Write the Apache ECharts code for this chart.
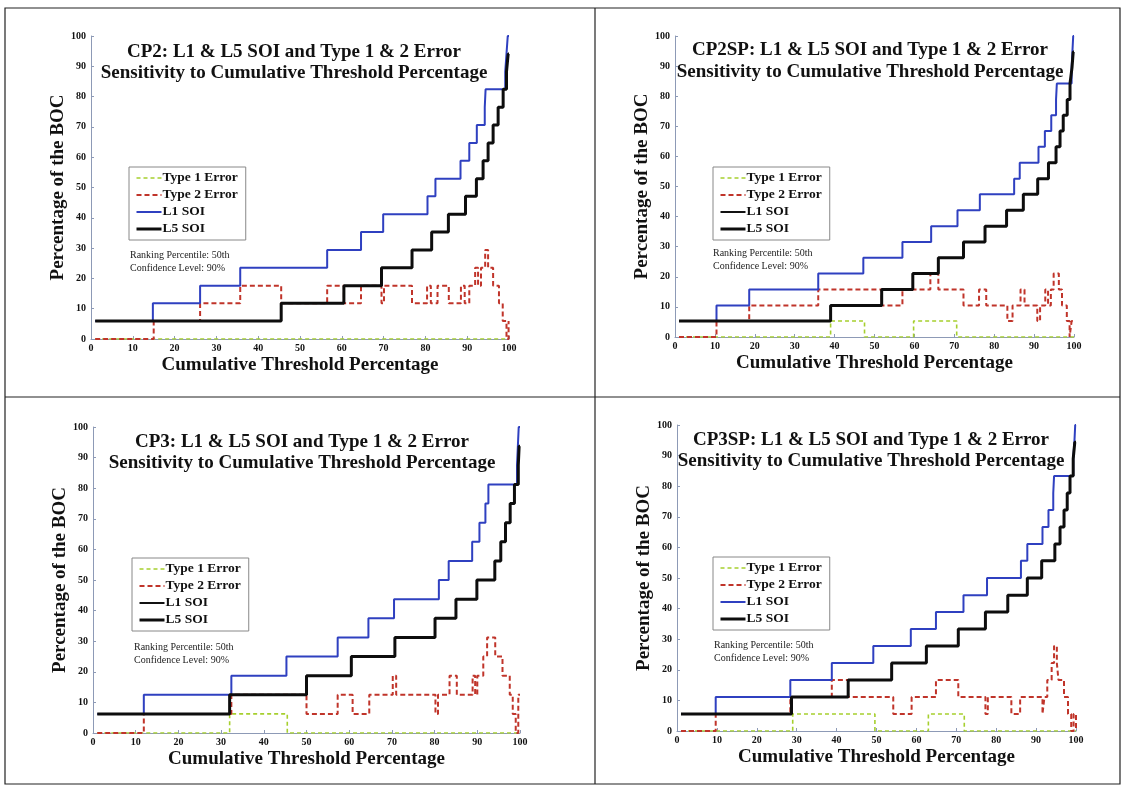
<!DOCTYPE html>
<html>
<head>
<meta charset="utf-8">
<script src="https://cdn.jsdelivr.net/npm/echarts@6/dist/echarts.min.js"></script>
<style>
  html, body { margin: 0; padding: 0; background: #fff; }
  #chart { width: 1122px; height: 786px; }
</style>
</head>
<body>
<div id="chart"></div>
<script>
// Step curves: each point [threshold %, % of BOC]; the value holds until the next point.
const panelNames = ['CP2', 'CP2SP', 'CP3', 'CP3SP'];
const axisTicks = [0, 10, 20, 30, 40, 50, 60, 70, 80, 90, 100];

// CP2
const cp2Type1 = [[1, 0], [100, 0]];
const cp2Type2 = [[1, 0], [15, 5.9], [26.1, 11.8], [35.7, 17.6], [45.5, 11.8], [56.5, 17.6], [60.5, 11.8], [64.6, 17.6], [69.5, 11.8], [70.1, 17.6], [76.8, 11.8], [80.4, 17.6], [81.3, 11.8], [82.9, 17.6], [85.6, 11.8], [88.5, 17.6], [89.4, 11.8], [90.5, 17.6], [91.9, 23.5], [92.6, 17.6], [93.3, 23.5], [94.3, 29.4], [95.0, 23.5], [96.2, 17.6], [97.6, 11.8], [98.5, 5.9], [99.4, 0], [99.9, 5.9], [100, 5.9]];
const cp2L1 = [[1, 5.9], [14.8, 11.8], [26.1, 17.6], [35.7, 23.5], [56.5, 29.4], [64.6, 35.3], [69.9, 41.2], [80.5, 47.1], [82.4, 52.9], [88.4, 58.8], [90.5, 64.7], [92.3, 70.6], [94.2, 76.5], [94.4, 82.4], [99.1, 88.2], [99.4, 94.1], [99.7, 100], [100, 100]];
const cp2L5 = [[1, 5.9], [45.5, 11.8], [60.5, 17.6], [69.5, 23.5], [76.8, 29.4], [81.5, 35.3], [85.5, 41.2], [89.6, 47.1], [92.2, 52.9], [93.8, 58.8], [95.0, 64.7], [96.2, 70.6], [97.4, 76.5], [98.6, 82.4], [99.4, 88.2], [99.8, 94.1], [100, 94.1]];

// CP2SP
const cp2spType1 = [[1, 0], [39.0, 5.3], [47.5, 0], [59.8, 5.3], [70.6, 0], [100, 0]];
const cp2spType2 = [[1, 0], [10.4, 5.3], [18.6, 10.5], [35.9, 15.8], [51.8, 10.5], [57.0, 15.8], [64.0, 21.1], [66.0, 15.8], [72.3, 10.5], [76.2, 15.8], [78.0, 10.5], [83.3, 5.3], [84.6, 10.5], [86.6, 15.8], [87.6, 10.5], [90.8, 5.3], [91.5, 10.5], [92.8, 15.8], [93.5, 10.5], [94.2, 15.8], [94.9, 21.1], [96.2, 15.8], [97.0, 10.5], [98.2, 5.3], [98.9, 0], [99.4, 5.3], [100, 5.3]];
const cp2spL1 = [[1, 5.3], [10.4, 10.5], [18.6, 15.8], [35.9, 21.1], [47.2, 26.3], [57.0, 31.6], [64.2, 36.8], [70.8, 42.1], [76.4, 47.4], [85.0, 52.6], [86.4, 57.9], [91.1, 63.2], [92.7, 68.4], [94.3, 73.7], [95.5, 78.9], [95.7, 84.2], [99.4, 89.5], [99.6, 94.7], [99.8, 100], [100, 100]];
const cp2spL5 = [[1, 5.3], [39.0, 10.5], [51.8, 15.8], [59.6, 21.1], [66.0, 26.3], [72.3, 31.6], [77.7, 36.8], [83.1, 42.1], [87.3, 47.4], [90.9, 52.6], [93.6, 57.9], [95.5, 63.2], [96.5, 68.4], [97.3, 73.7], [98.3, 78.9], [99.0, 84.2], [99.5, 89.5], [99.8, 94.7], [100, 94.7]];

// CP3
const cp3Type1 = [[1, 0], [32.0, 6.25], [45.5, 0], [100, 0]];
const cp3Type2 = [[1, 0], [11.9, 6.25], [32.4, 12.5], [50.0, 6.25], [57.3, 12.5], [60.8, 6.25], [64.7, 12.5], [70.2, 18.75], [71.0, 12.5], [80.2, 6.25], [80.8, 12.5], [83.5, 18.75], [85.2, 12.5], [88.9, 18.75], [89.5, 12.5], [90.0, 18.75], [91.4, 25], [92.3, 31.25], [94.2, 25], [95.9, 18.75], [97.6, 12.5], [98.3, 6.25], [99.0, 0], [99.6, 12.5], [100, 12.5]];
const cp3L1 = [[1, 6.25], [11.9, 12.5], [32.4, 18.75], [45.3, 25], [57.3, 31.25], [64.5, 37.5], [70.5, 43.75], [81.0, 50], [83.3, 56.25], [88.8, 62.5], [90.5, 68.75], [91.9, 75], [92.6, 81.25], [99.3, 87.5], [99.5, 93.75], [99.7, 100], [100, 100]];
const cp3L5 = [[1, 6.25], [32.0, 12.5], [50.0, 18.75], [60.5, 25], [70.7, 31.25], [80.1, 37.5], [85.0, 43.75], [89.9, 50], [94.1, 56.25], [95.5, 62.5], [96.6, 68.75], [97.7, 75], [98.7, 81.25], [99.6, 87.5], [99.8, 93.75], [100, 93.75]];

// CP3SP
const cp3spType1 = [[1, 0], [29.0, 5.56], [49.6, 0], [63.0, 5.56], [72.0, 0], [100, 0]];
const cp3spType2 = [[1, 0], [9.7, 5.56], [28.4, 11.1], [38.8, 16.7], [42.9, 11.1], [54.2, 5.56], [58.8, 11.1], [64.9, 16.7], [70.5, 11.1], [77.3, 5.56], [77.9, 11.1], [83.8, 5.56], [86.0, 11.1], [91.6, 5.56], [92.1, 11.1], [92.8, 16.7], [93.9, 22.2], [94.5, 27.8], [95.2, 22.2], [95.6, 16.7], [97.0, 11.1], [98.0, 5.56], [98.8, 0], [99.4, 5.56], [100, 0]];
const cp3spL1 = [[1, 5.56], [9.7, 11.1], [28.4, 16.7], [38.8, 22.2], [49.2, 27.8], [58.6, 33.3], [64.9, 38.9], [71.8, 44.4], [77.7, 50], [86.2, 55.6], [87.8, 61.1], [91.6, 66.7], [93.1, 72.2], [94.3, 77.8], [94.5, 83.3], [99.3, 88.9], [99.6, 94.4], [99.8, 100], [100, 100]];
const cp3spL5 = [[1, 5.56], [28.7, 11.1], [42.9, 16.7], [53.8, 22.2], [62.5, 27.8], [70.5, 33.3], [77.3, 38.9], [82.9, 44.4], [87.8, 50], [91.4, 55.6], [94.7, 61.1], [96.0, 66.7], [97.0, 72.2], [97.8, 77.8], [98.5, 83.3], [99.3, 88.9], [99.7, 94.4], [100, 94.4]];

const seriesNames = ['Type 1 Error', 'Type 2 Error', 'L1 SOI', 'L5 SOI'];
const panelData = [
  [cp2Type1, cp2Type2, cp2L1, cp2L5],
  [cp2spType1, cp2spType2, cp2spL1, cp2spL5],
  [cp3Type1, cp3Type2, cp3L1, cp3L5],
  [cp3spType1, cp3spType2, cp3spL1, cp3spL5]
];
const noteLines = ['Ranking Percentile: 50th', 'Confidence Level: 90%'];
const subtitle = 'Sensitivity to Cumulative Threshold Percentage';
const xName = 'Cumulative Threshold Percentage';
const yName = 'Percentage of the BOC';

// ---- layout / styling ----
const SERIF = "'Liberation Serif', 'Times New Roman', serif";
const grids = [
  { left: 91, top: 36, width: 418, height: 303 },
  { left: 675, top: 36, width: 399, height: 301 },
  { left: 93, top: 427, width: 427, height: 306 },
  { left: 677, top: 425, width: 399, height: 306 }
];
const titlePos = [[294, 52, 73], [870, 50, 72], [302, 442, 463], [871, 440, 461]];
const legendPos = [[129, 167], [713, 167], [132, 558], [713, 557]];
const notePos = [[130, 255], [713, 253], [134, 647], [714, 645]];
const legendL1Color = ['#2f40c0', '#111', '#111', '#2f40c0'];

const lineStyles = [
  { color: '#a6cf2e', width: 1.6, type: [4, 3] },
  { color: '#c0342a', width: 2, type: [5, 3] },
  { color: '#2f40c0', width: 2, type: 'solid' },
  { color: '#0d0d0d', width: 3, type: 'solid' }
];

const axisCommon = {
  type: 'value', min: 0, max: 100, interval: 10,
  axisLine: { show: true, lineStyle: { color: '#8d9ab6', width: 1 } },
  axisTick: { show: true, inside: true, length: 3, lineStyle: { color: '#8d9ab6' } },
  splitLine: { show: false },
  axisLabel: { fontFamily: SERIF, fontWeight: 'bold', fontSize: 10, color: '#111' },
  nameTextStyle: { fontFamily: SERIF, fontWeight: 'bold', fontSize: 19, color: '#111' }
};

const xAxes = [], yAxes = [], series = [], legends = [], graphics = [];

grids.forEach((g, i) => {
  xAxes.push(Object.assign({}, axisCommon, {
    gridIndex: i, name: xName, nameLocation: 'middle', nameGap: 17,
    axisLabel: Object.assign({}, axisCommon.axisLabel, { margin: 4 })
  }));
  yAxes.push(Object.assign({}, axisCommon, {
    gridIndex: i, name: yName, nameLocation: 'middle', nameGap: 23, nameRotate: 90,
    axisLabel: Object.assign({}, axisCommon.axisLabel, { margin: 5 })
  }));
  panelData[i].forEach((d, k) => {
    series.push({
      name: seriesNames[k], type: 'line', xAxisIndex: i, yAxisIndex: i,
      step: 'end', symbol: 'none', showSymbol: false, data: d, z: 2 + k,
      lineStyle: lineStyles[k], itemStyle: { color: lineStyles[k].color },
      emphasis: { disabled: true }
    });
  });
  legends.push({
    left: legendPos[i][0], top: legendPos[i][1], orient: 'vertical',
    backgroundColor: '#fff', borderColor: '#888', borderWidth: 1,
    padding: [4, 8, 4, 6], itemGap: 3, itemWidth: 25, itemHeight: 12,
    selectedMode: false,
    itemStyle: { opacity: 0 },
    textStyle: { fontFamily: SERIF, fontWeight: 'bold', fontSize: 13.5, color: '#111', padding: [0, 0, 0, -4] },
    data: seriesNames.map((n, k) => ({
      name: n,
      itemStyle: { opacity: 0 },
      lineStyle: {
        color: k === 2 ? legendL1Color[i] : lineStyles[k].color,
        width: lineStyles[k].width,
        type: lineStyles[k].type
      }
    }))
  });
  const t = titlePos[i];
  graphics.push({
    type: 'text', x: t[0], y: t[1], z: 10,
    style: { text: panelNames[i] + ': L1 & L5 SOI and Type 1 & 2 Error', align: 'center', verticalAlign: 'middle',
      fontFamily: SERIF, fontWeight: 'bold', fontSize: 19, fill: '#111' }
  });
  graphics.push({
    type: 'text', x: t[0], y: t[2], z: 10,
    style: { text: subtitle, align: 'center', verticalAlign: 'middle',
      fontFamily: SERIF, fontWeight: 'bold', fontSize: 19, fill: '#111' }
  });
  noteLines.forEach((line, j) => {
    graphics.push({
      type: 'text', x: notePos[i][0], y: notePos[i][1] + j * 13, z: 10,
      style: { text: line, align: 'left', verticalAlign: 'middle',
        fontFamily: SERIF, fontSize: 10, fill: '#222' }
    });
  });
});

// panel frame lines
const frame = { stroke: '#222', lineWidth: 1.2 };
graphics.push({ type: 'rect', shape: { x: 5, y: 8, width: 1115, height: 776 }, style: Object.assign({ fill: null }, frame), z: 0, silent: true });
graphics.push({ type: 'line', shape: { x1: 595, y1: 8, x2: 595, y2: 784 }, style: frame, z: 0, silent: true });
graphics.push({ type: 'line', shape: { x1: 5, y1: 397, x2: 1120, y2: 397 }, style: frame, z: 0, silent: true });

const chart = echarts.init(document.getElementById('chart'), null, { renderer: 'canvas' });
chart.setOption({
  animation: false,
  backgroundColor: '#fff',
  grid: grids,
  xAxis: xAxes,
  yAxis: yAxes,
  legend: legends,
  series: series,
  graphic: graphics
});
</script>
</body>
</html>
